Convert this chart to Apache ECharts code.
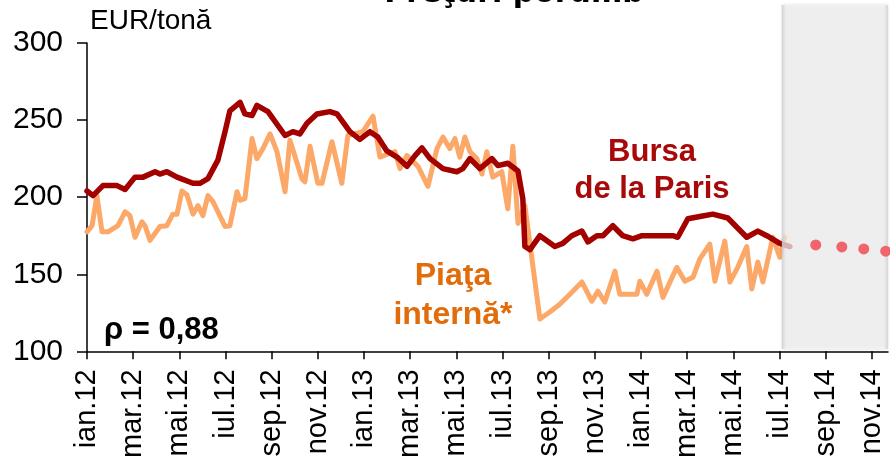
<!DOCTYPE html>
<html>
<head>
<meta charset="utf-8">
<script src="https://cdn.jsdelivr.net/npm/echarts@6/dist/echarts.min.js"></script>
<style>
  html, body { margin: 0; padding: 0; background: #fff; }
  #chart { width: 890px; height: 461px; }
</style>
</head>
<body>
<div id="chart"></div>
<script>
// luni (0 = ian.12), etichete din 2 in 2 luni
var tickLabels = ['ian.12', 'mar.12', 'mai.12', 'iul.12', 'sep.12', 'nov.12',
  'ian.13', 'mar.13', 'mai.13', 'iul.13', 'sep.13', 'nov.13',
  'ian.14', 'mar.14', 'mai.14', 'iul.14', 'sep.14', 'nov.14'];

// Bursa de la Paris [luna, EUR/tona]
var bursaParis = [
  [0, 204], [0.26, 201], [0.69, 207.5], [1.3, 207.5], [1.65, 205], [2.08, 213], [2.43, 213],
  [2.95, 216.5], [3.16, 215], [3.46, 216.5], [3.9, 213], [4.59, 209], [4.89, 209], [5.24, 212],
  [5.67, 224], [5.98, 242.5], [6.19, 256], [6.63, 261.5], [6.84, 254], [7.15, 253], [7.36, 259.5],
  [7.84, 255.5], [8.58, 240], [8.92, 242.5], [9.22, 241], [9.53, 248], [9.96, 254], [10.52, 255.5],
  [10.83, 254], [11.39, 242.5], [11.82, 237.5], [12.26, 242.5], [12.6, 239], [12.99, 230],
  [13.43, 226], [13.86, 220], [14.21, 227], [14.51, 232], [14.86, 225], [15.42, 218.5],
  [16.02, 216.5], [16.28, 218.5], [16.59, 225], [17.02, 218.5], [17.54, 225], [17.8, 220.5],
  [18.23, 222], [18.67, 217], [18.88, 199], [18.97, 168], [19.19, 166], [19.62, 175],
  [20.27, 168], [20.61, 170], [21.0, 175], [21.44, 178], [21.7, 171], [22.09, 175], [22.35, 175],
  [22.78, 181.5], [23.21, 175], [23.65, 173], [24.04, 175], [25.38, 175], [25.59, 174],
  [26.03, 186], [26.55, 187.5], [27.11, 189], [27.76, 186.5], [28.58, 174], [29.06, 178],
  [29.45, 175], [30.01, 170], [30.45, 168]
];

// Piata interna [luna, EUR/tona]
var piataInterna = [
  [0, 177.5], [0.22, 181.5], [0.43, 201], [0.65, 177.5], [0.91, 177.5], [1.34, 181.5],
  [1.65, 190.5], [1.86, 188], [2.08, 174], [2.38, 184], [2.51, 181.5], [2.73, 172], [3.16, 181],
  [3.46, 181.5], [3.72, 189], [3.9, 189], [4.11, 204], [4.33, 201.5], [4.59, 189], [4.81, 194.5],
  [5.02, 188], [5.24, 201], [5.46, 197], [5.98, 181], [6.19, 181.5], [6.5, 203.5], [6.63, 198],
  [6.84, 199], [7.15, 238], [7.36, 225], [7.62, 231.5], [7.93, 241], [8.23, 229.5], [8.58, 203.5],
  [8.79, 237], [9.31, 212], [9.44, 210], [9.66, 233], [10.0, 209], [10.18, 209], [10.61, 236],
  [11.04, 209], [11.3, 240], [11.95, 242.5], [12.39, 252.5], [12.69, 226], [13.04, 228],
  [13.34, 229.5], [13.56, 218.5], [13.86, 227], [14.34, 220], [14.77, 207], [15.16, 231.5],
  [15.42, 239], [15.72, 231.5], [15.94, 238], [16.15, 226], [16.37, 239], [16.59, 229.5],
  [16.89, 225], [17.11, 215], [17.32, 229.5], [17.58, 213], [17.97, 216.5], [18.23, 192.5],
  [18.45, 233], [18.67, 183], [18.97, 194.5], [19.62, 121], [20.05, 125.5], [20.48, 130.5],
  [20.92, 137], [21.44, 145], [21.87, 132.5], [22.13, 139], [22.43, 132], [22.87, 152],
  [23.08, 137], [23.82, 137], [23.95, 145.5], [24.25, 137], [24.69, 152], [24.95, 135],
  [25.55, 154.5], [25.9, 145.5], [26.25, 148], [26.55, 160], [26.98, 169.5], [27.2, 145.5],
  [27.63, 171.5], [27.85, 145], [28.19, 154.5], [28.58, 168], [28.8, 140.5], [29.06, 158],
  [29.28, 145], [29.71, 174], [30.01, 161], [30.23, 174]
];

// prognoza (puncte)
var prognoza = [[31.57, 169], [32.7, 167.7], [33.65, 166.4], [34.6, 165]];

var forecastStart = 30.1;
var xMax = 34.7;

var tickValues = tickLabels.map(function (l, i) { return i * 2; });
var font = '"Liberation Sans", Arial, sans-serif';

var chart = echarts.init(document.getElementById('chart'));
chart.setOption({
  animation: false,
  grid: { left: 87, right: 2, top: 43, bottom: 109 },
  xAxis: {
    type: 'value',
    min: 0,
    max: xMax,
    splitLine: { show: false },
    axisLine: { lineStyle: { color: '#000', width: 1.5 } },
    axisTick: { show: true, length: 8, customValues: tickValues, lineStyle: { color: '#000', width: 1.5 } },
    axisLabel: {
      customValues: tickValues,
      rotate: 90,
      margin: 18,
      color: '#000',
      fontFamily: font,
      fontSize: 29,
      formatter: function (v) { return tickLabels[Math.round(v / 2)] || ''; }
    }
  },
  yAxis: {
    type: 'value',
    min: 100,
    max: 300,
    interval: 50,
    splitLine: { show: false },
    axisLine: { show: true, lineStyle: { color: '#000', width: 1.5 } },
    axisTick: { show: true, length: 10, lineStyle: { color: '#000', width: 1.5 } },
    axisLabel: { margin: 24, color: '#000', fontFamily: font, fontSize: 30 }
  },
  series: [
    {
      name: 'Piaţa internă*',
      type: 'line',
      data: piataInterna,
      showSymbol: false,
      z: 2,
      lineStyle: { color: '#fba868', width: 5, join: 'round', cap: 'round' }
    },
    {
      name: 'Bursa de la Paris',
      type: 'line',
      data: bursaParis,
      showSymbol: false,
      z: 3,
      lineStyle: { color: '#a30000', width: 5.5, join: 'round', cap: 'round' }
    },
    {
      name: 'prognoza',
      type: 'scatter',
      data: prognoza,
      symbolSize: 11,
      zlevel: 1,
      z: 10,
      itemStyle: { color: '#f0646e', opacity: 1 }
    }
  ],
  graphic: [
    {
      type: 'text', left: 90, top: 7, z: 20,
      style: { text: 'EUR/tonă', fill: '#000', font: '28px ' + font }
    },
    {
      type: 'text', x: 514, y: -6, z: 20,
      style: { text: 'Preţuri porumb', fill: '#000', font: 'bold 30px "DejaVu Sans", sans-serif', align: 'center', verticalAlign: 'middle' }
    },
    {
      type: 'text', x: 652, y: 171, z: 20,
      style: { text: 'Bursa\nde la Paris', fill: '#a80a0a', font: 'bold 31px ' + font, align: 'center', verticalAlign: 'middle', lineHeight: 37 }
    },
    {
      type: 'text', x: 453, y: 296, z: 20,
      style: { text: 'Piaţa\ninternă*', fill: '#e36c0a', font: 'bold 32px ' + font, align: 'center', verticalAlign: 'middle', lineHeight: 39 }
    },
    {
      type: 'text', x: 104, y: 330, z: 20,
      style: { text: 'ρ = 0,88', fill: '#000', font: 'bold 31px ' + font, align: 'left', verticalAlign: 'middle' }
    }
  ]
});

// caseta gri pentru perioada de prognoza
var bx0 = chart.convertToPixel({ xAxisIndex: 0 }, forecastStart);
var bx1 = chart.convertToPixel({ xAxisIndex: 0 }, xMax);
chart.setOption({
  graphic: [{
    type: 'rect', id: 'box', z: 5,
    shape: { x: bx0, y: 5, width: bx1 - bx0, height: 344 },
    style: {
      fill: {
        type: 'linear', x: 0, y: 0, x2: 1, y2: 0,
        colorStops: [
          { offset: 0, color: 'rgba(205,205,205,0.9)' },
          { offset: 0.04, color: 'rgba(245,245,245,0.72)' },
          { offset: 0.96, color: 'rgba(245,245,245,0.72)' },
          { offset: 1, color: 'rgba(210,210,210,0.9)' }
        ]
      },
      shadowBlur: 3,
      shadowColor: 'rgba(0,0,0,0.2)'
    }
  }]
});
</script>
</body>
</html>
